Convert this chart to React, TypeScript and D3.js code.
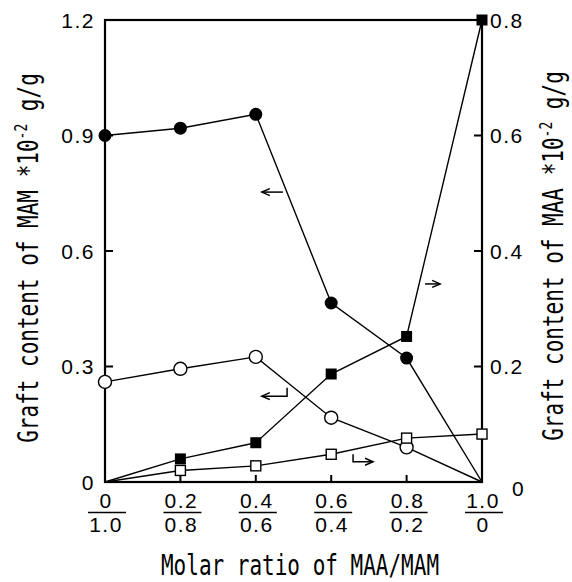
import React from "react";
import * as d3 from "d3";

// ---- data ----
const ratios = [0, 0.2, 0.4, 0.6, 0.8, 1.0];
const maaLabels = ["0", "0.2", "0.4", "0.6", "0.8", "1.0"];
const mamLabels = ["1.0", "0.8", "0.6", "0.4", "0.2", "0"];
const mamFilled = [0.9, 0.919, 0.955, 0.465, 0.322, 0];
const mamOpen = [0.26, 0.294, 0.325, 0.167, 0.09, 0];
const maaFilled = [0, 0.04, 0.068, 0.187, 0.252, 0.8];
const maaOpen = [0, 0.02, 0.028, 0.048, 0.076, 0.083];
const leftTicks = [0, 0.3, 0.6, 0.9, 1.2];
const rightTicks = [0, 0.2, 0.4, 0.6, 0.8];

const W = 572, H = 582;
const L = 105, R = 482, T = 20, B = 482;
const x = d3.scaleLinear().domain([0, 1]).range([L, R]);
const yL = d3.scaleLinear().domain([0, 1.2]).range([B, T]);
const yR = d3.scaleLinear().domain([0, 0.8]).range([B, T]);

const tickFont = "'Liberation Sans', Arial, sans-serif";
const titleFont = "'DejaVu Sans Mono', monospace";

function Arrow({ pts, dir }: { pts: [number, number][]; dir: number }) {
  const line = d3.line();
  const [hx, hy] = pts[pts.length - 1];
  const head: [number, number][] = [
    [hx + dir * 8, hy - 3.5],
    [hx, hy],
    [hx + dir * 8, hy + 3.5],
  ];
  return (
    <g fill="none" stroke="#000" strokeWidth={1.5}>
      <path d={line(pts) || ""} />
      <path d={line(head) || ""} />
    </g>
  );
}

export default function App() {
  const mk = (vals: number[], sy: d3.ScaleLinear<number, number>) =>
    d3.line<number>().x((_, i) => x(ratios[i])).y((v) => sy(v))(vals) || "";

  return (
    <svg width={W} height={H} style={{ display: "block", position: "absolute", left: 0, top: 0 }}>
      <rect width={W} height={H} fill="#fff" />
      {/* series lines */}
      <g fill="none" stroke="#000" strokeWidth={1.4}>
        <path d={mk(mamFilled, yL)} />
        <path d={mk(mamOpen, yL)} />
        <path d={mk(maaFilled, yR)} />
        <path d={mk(maaOpen, yR)} />
      </g>
      {/* frame */}
      <rect x={L} y={T} width={R - L} height={B - T} fill="none" stroke="#000" strokeWidth={2.2} />
      {/* ticks */}
      <g stroke="#000" strokeWidth={2}>
        {leftTicks.slice(1, -1).map((t) => (
          <line key={"l" + t} x1={L} x2={L + 8} y1={yL(t)} y2={yL(t)} />
        ))}
        {rightTicks.slice(1, -1).map((t) => (
          <line key={"r" + t} x1={R} x2={R - 8} y1={yR(t)} y2={yR(t)} />
        ))}
        {ratios.slice(1, -1).map((t) => (
          <line key={"b" + t} x1={x(t)} x2={x(t)} y1={B} y2={B - 7} />
        ))}
      </g>
      {/* markers */}
      {mamFilled.map((v, i) =>
        v > 0 ? <circle key={"mf" + i} cx={x(ratios[i])} cy={yL(v)} r={6.5} fill="#000" /> : null
      )}
      {mamOpen.map((v, i) =>
        v > 0 ? (
          <circle key={"mo" + i} cx={x(ratios[i])} cy={yL(v)} r={6.5} fill="#fff" stroke="#000" strokeWidth={1.4} />
        ) : null
      )}
      {maaFilled.map((v, i) =>
        v > 0 ? <rect key={"af" + i} x={x(ratios[i]) - 5.5} y={yR(v) - 5.5} width={11} height={11} fill="#000" /> : null
      )}
      {maaOpen.map((v, i) =>
        v > 0 ? (
          <rect key={"ao" + i} x={x(ratios[i]) - 5} y={yR(v) - 5} width={10} height={10} fill="#fff" stroke="#000" strokeWidth={1.4} />
        ) : null
      )}
      {/* arrows */}
      <Arrow pts={[[x(0.472), yL(0.753)], [x(0.416), yL(0.753)]]} dir={1} />
      <Arrow pts={[[x(0.483), yL(0.245)], [x(0.483), yL(0.223)], [x(0.416), yL(0.223)]]} dir={1} />
      <Arrow pts={[[x(0.849), yR(0.343)], [x(0.889), yR(0.343)]]} dir={-1} />
      <Arrow pts={[[x(0.658), yR(0.048)], [x(0.658), yR(0.035)], [x(0.711), yR(0.035)]]} dir={-1} />
      {/* tick labels */}
      <g fontFamily={tickFont} fontSize={21} letterSpacing={1.5} fill="#000">
        {leftTicks.map((t) => (
          <text key={"lt" + t} x={L - 10} y={yL(t)} textAnchor="end" dominantBaseline="central">
            {t === 0 ? "0" : t.toFixed(1)}
          </text>
        ))}
        {rightTicks.map((t) => (
          <text
            key={"rt" + t}
            x={t === 0 ? R + 30 : R + 8}
            y={t === 0 ? yR(t) + 6 : yR(t)}
            textAnchor="start"
            dominantBaseline="central"
          >
            {t === 0 ? "0" : t.toFixed(1)}
          </text>
        ))}
        {ratios.map((r, i) => (
          <g key={"xt" + i}>
            <text x={x(r) + 1} y={508} textAnchor="middle">{maaLabels[i]}</text>
            <line x1={x(r) - 17} x2={x(r) + 21} y1={512.5} y2={512.5} stroke="#000" strokeWidth={1.5} />
            <text x={x(r) + 1} y={532} textAnchor="middle">{mamLabels[i]}</text>
          </g>
        ))}
      </g>
      {/* titles */}
      <g fontFamily={titleFont} fontSize={21} fill="#000">
        <text transform={`translate(300,575) scale(1,1.38)`} textAnchor="middle">
          Molar ratio of MAA/MAM
        </text>
        <text transform={`translate(38,258) rotate(-90) scale(1,1.38)`} textAnchor="middle">
          Graft content of MAM *10
          <tspan fontSize={13} dy={-8}>-2</tspan>
          <tspan dy={8}> g/g</tspan>
        </text>
        <text transform={`translate(563,256) rotate(-90) scale(1,1.38)`} textAnchor="middle">
          Graft content of MAA *10
          <tspan fontSize={13} dy={-8}>-2</tspan>
          <tspan dy={8}> g/g</tspan>
        </text>
      </g>
    </svg>
  );
}
